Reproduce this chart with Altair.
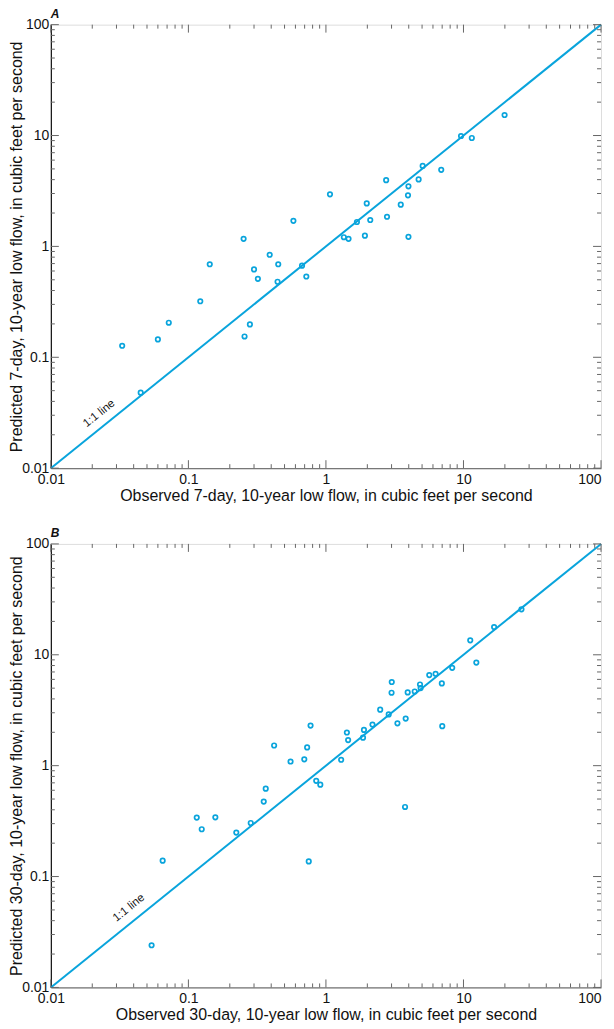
import altair as alt
import pandas as pd

# ---- data ----
obs_7 = [0.033, 0.045, 0.060, 0.072, 0.122, 0.143, 0.252, 0.256, 0.28, 0.30, 0.32, 0.39,
         0.45, 0.445, 0.58, 0.67, 0.72, 1.07, 1.35, 1.46, 1.68, 1.92, 1.98, 2.1, 2.74,
         2.78, 3.5, 3.98, 3.95, 3.98, 4.72, 5.05, 6.89, 9.6, 11.5, 19.9]
pred_7 = [0.127, 0.048, 0.145, 0.205, 0.32, 0.69, 1.17, 0.154, 0.198, 0.62, 0.51, 0.84,
          0.69, 0.48, 1.7, 0.67, 0.535, 2.95, 1.21, 1.17, 1.66, 1.25, 2.44, 1.73, 3.96,
          1.85, 2.38, 3.48, 2.89, 1.22, 4.02, 5.32, 4.9, 9.9, 9.5, 15.3]

obs_30 = [0.054, 0.065, 0.115, 0.125, 0.157, 0.223, 0.284, 0.353, 0.365, 0.42, 0.553,
          0.696, 0.73, 0.773, 0.75, 0.85, 0.91, 1.29, 1.42, 1.45, 1.86, 1.89, 2.18, 2.48,
          2.86, 3.01, 3.0, 3.31, 3.8, 3.76, 3.93, 4.42, 4.83, 4.88, 5.64, 6.27, 6.96,
          7.01, 8.28, 11.2, 12.4, 16.7, 26.4]
pred_30 = [0.024, 0.139, 0.34, 0.267, 0.342, 0.249, 0.304, 0.474, 0.62, 1.52, 1.09,
           1.14, 1.46, 2.3, 0.137, 0.73, 0.674, 1.13, 1.99, 1.7, 1.79, 2.1, 2.35, 3.2,
           2.9, 5.68, 4.55, 2.41, 2.66, 0.424, 4.58, 4.67, 5.4, 5.01, 6.56, 6.74, 5.52,
           2.27, 7.63, 13.5, 8.5, 17.8, 25.7]

tick_major = [0.01, 0.1, 1, 10, 100]
tick_minor = [m * d for d in [0.01, 0.1, 1, 10] for m in range(2, 10)]
one_to_one = [0.01, 100]

FONT = "Liberation Sans"
BLUE = "#09a4dc"
W, H = 552, 445
MAJOR_LEN, MINOR_LEN = 8, 4


def panel(letter, obs, pred, xtitle, ytitle, lab_x, lab_y):
    xs = alt.Scale(type="log", domain=[0.01, 100], nice=False)
    ys = alt.Scale(type="log", domain=[0.01, 100], nice=False)
    base = dict(values=tick_major, format="~g", ticks=False, grid=False,
                domainWidth=1.2, labelFont=FONT, labelFontSize=14, labelColor="#111",
                titleFont=FONT, titleFontSize=16, titleFontWeight="normal",
                titleColor="#111", labelOverlap=False, labelFlush=False)
    xax = alt.Axis(title=xtitle, labelPadding=4, titlePadding=1, domainColor="#777",
                   labelAlign={"condition": {"test": "datum.value >= 100", "value": "right"},
                               "value": "center"},
                   **base)
    yax = alt.Axis(title=ytitle, labelPadding=2, titlePadding=-3, domainColor="#111", **base)

    pts = pd.DataFrame({"obs": obs, "pred": pred})
    line_df = pd.DataFrame({"obs": one_to_one, "pred": one_to_one})

    line = alt.Chart(line_df).mark_line(color=BLUE, strokeWidth=2).encode(
        x=alt.X("obs:Q", scale=xs, axis=xax),
        y=alt.Y("pred:Q", scale=ys, axis=yax),
    )
    points = alt.Chart(pts).mark_point(shape="circle", filled=False, color=BLUE,
                                       size=20, strokeWidth=1.7, opacity=1).encode(
        x=alt.X("obs:Q", scale=xs), y=alt.Y("pred:Q", scale=ys))

    lab = alt.Chart(pd.DataFrame({"obs": [lab_x], "pred": [lab_y], "t": ["1:1 line"]})).mark_text(
        angle=321.2, font=FONT, fontSize=11.5, color="#111", align="center", baseline="middle"
    ).encode(x=alt.X("obs:Q", scale=xs), y=alt.Y("pred:Q", scale=ys), text="t:N")

    layers = [line, points, lab]
    for vals, ln in [(tick_major, MAJOR_LEN), (tick_minor, MINOR_LEN)]:
        d = pd.DataFrame({"v": vals})
        layers.append(alt.Chart(d).mark_rule(color="#666", strokeWidth=1).encode(
            x=alt.X("v:Q", scale=xs), y=alt.value(H), y2=alt.value(H - ln)))
        layers.append(alt.Chart(d).mark_rule(color="#666", strokeWidth=1).encode(
            x=alt.X("v:Q", scale=xs), y=alt.value(0), y2=alt.value(ln)))
        layers.append(alt.Chart(d).mark_rule(color="#666", strokeWidth=1).encode(
            y=alt.Y("v:Q", scale=ys), x=alt.value(0), x2=alt.value(ln)))
        layers.append(alt.Chart(d).mark_rule(color="#666", strokeWidth=1).encode(
            y=alt.Y("v:Q", scale=ys), x=alt.value(W), x2=alt.value(W - ln)))

    return alt.layer(*layers).properties(
        width=W, height=H,
        title=alt.TitleParams(letter, anchor="start", frame="group", font=FONT, fontSize=12,
                              fontStyle="italic", fontWeight="bold", color="#111", offset=-3.5),
    )


a = panel("A", obs_7, pred_7,
          "Observed 7-day, 10-year low flow, in cubic feet per second",
          "Predicted 7-day, 10-year low flow, in cubic feet per second", 0.0225, 0.031)
b = panel("B", obs_30, pred_30,
          "Observed 30-day, 10-year low flow, in cubic feet per second",
          "Predicted 30-day, 10-year low flow, in cubic feet per second", 0.037, 0.052)

chart = alt.vconcat(a, b, spacing=23,
                    padding={"top": -2, "left": 0, "right": 0, "bottom": 0}).configure_view(
    stroke="#666", strokeWidth=1.2).configure(background="white")

chart.save("out.html", embed_options={"renderer": "svg", "actions": False})
